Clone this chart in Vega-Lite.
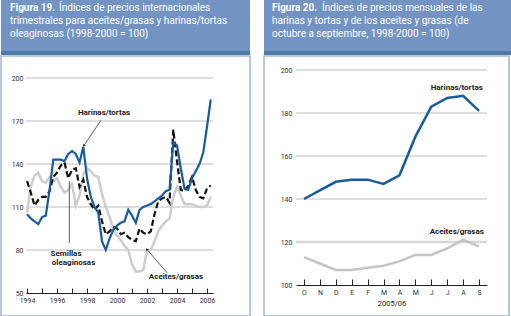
{
  "$schema": "https://vega.github.io/schema/vega-lite/v6.json",
  "padding": 0,
  "background": "white",
  "config": {
    "view": {"stroke": null},
    "font": "Roboto",
    "axis": {"labelFont": "Roboto", "labelFontSize": 7, "labelColor": "#333", "titleFont": "Roboto"}
  },
  "datasets": {
    "harinas": [
      {"t":1994.00,"v":105},{"t":1994.25,"v":102},{"t":1994.50,"v":100},{"t":1994.75,"v":98},
      {"t":1995.00,"v":103},{"t":1995.25,"v":104},{"t":1995.50,"v":122},{"t":1995.75,"v":143},
      {"t":1996.00,"v":143},{"t":1996.25,"v":143},{"t":1996.50,"v":142},{"t":1996.75,"v":147},
      {"t":1997.00,"v":149},{"t":1997.25,"v":147},{"t":1997.50,"v":141},{"t":1997.75,"v":152},
      {"t":1998.00,"v":130},{"t":1998.25,"v":117},{"t":1998.50,"v":110},{"t":1998.75,"v":106},
      {"t":1999.00,"v":86},{"t":1999.25,"v":80},{"t":1999.50,"v":88},{"t":1999.75,"v":94},
      {"t":2000.00,"v":97},{"t":2000.25,"v":99},{"t":2000.50,"v":100},{"t":2000.75,"v":108},
      {"t":2001.00,"v":104},{"t":2001.25,"v":99},{"t":2001.50,"v":108},{"t":2001.75,"v":110},
      {"t":2002.00,"v":111},{"t":2002.25,"v":112},{"t":2002.50,"v":114},{"t":2002.75,"v":116},
      {"t":2003.00,"v":118},{"t":2003.25,"v":121},{"t":2003.50,"v":122},{"t":2003.75,"v":155},
      {"t":2004.00,"v":153},{"t":2004.25,"v":137},{"t":2004.50,"v":123},{"t":2004.75,"v":122},
      {"t":2005.00,"v":130},{"t":2005.25,"v":135},{"t":2005.50,"v":140},{"t":2005.75,"v":148},
      {"t":2006.00,"v":166},{"t":2006.25,"v":185}
    ],
    "semillas": [
      {"t":1994.00,"v":128},{"t":1994.25,"v":120},{"t":1994.50,"v":111},{"t":1994.75,"v":115},
      {"t":1995.00,"v":117},{"t":1995.25,"v":117},{"t":1995.50,"v":121},{"t":1995.75,"v":131},
      {"t":1996.00,"v":134},{"t":1996.25,"v":139},{"t":1996.50,"v":141},{"t":1996.75,"v":130},
      {"t":1997.00,"v":136},{"t":1997.25,"v":137},{"t":1997.50,"v":124},{"t":1997.75,"v":129},
      {"t":1998.00,"v":117},{"t":1998.25,"v":112},{"t":1998.50,"v":108},{"t":1998.75,"v":111},
      {"t":1999.00,"v":100},{"t":1999.25,"v":91},{"t":1999.50,"v":93},{"t":1999.75,"v":96},
      {"t":2000.00,"v":95},{"t":2000.25,"v":91},{"t":2000.50,"v":92},{"t":2000.75,"v":89},
      {"t":2001.00,"v":87},{"t":2001.25,"v":86},{"t":2001.50,"v":95},{"t":2001.75,"v":92},
      {"t":2002.00,"v":91},{"t":2002.25,"v":93},{"t":2002.50,"v":105},{"t":2002.75,"v":114},
      {"t":2003.00,"v":116},{"t":2003.25,"v":117},{"t":2003.50,"v":113},{"t":2003.75,"v":164},
      {"t":2004.00,"v":142},{"t":2004.25,"v":122},{"t":2004.50,"v":121},{"t":2004.75,"v":125},
      {"t":2005.00,"v":131},{"t":2005.25,"v":122},{"t":2005.50,"v":117},{"t":2005.75,"v":116},
      {"t":2006.00,"v":123},{"t":2006.25,"v":125}
    ],
    "aceites": [
      {"t":1994.00,"v":106},{"t":1994.25,"v":124},{"t":1994.50,"v":132},{"t":1994.75,"v":134},
      {"t":1995.00,"v":128},{"t":1995.25,"v":127},{"t":1995.50,"v":131},{"t":1995.75,"v":128},
      {"t":1996.00,"v":130},{"t":1996.25,"v":124},{"t":1996.50,"v":120},{"t":1996.75,"v":122},
      {"t":1997.00,"v":126},{"t":1997.25,"v":111},{"t":1997.50,"v":118},{"t":1997.75,"v":133},
      {"t":1998.00,"v":137},{"t":1998.25,"v":135},{"t":1998.50,"v":132},{"t":1998.75,"v":131},
      {"t":1999.00,"v":119},{"t":1999.25,"v":110},{"t":1999.50,"v":103},{"t":1999.75,"v":95},
      {"t":2000.00,"v":90},{"t":2000.25,"v":87},{"t":2000.50,"v":83},{"t":2000.75,"v":80},
      {"t":2001.00,"v":70},{"t":2001.25,"v":65},{"t":2001.50,"v":65},{"t":2001.75,"v":66},
      {"t":2002.00,"v":80},{"t":2002.25,"v":80},{"t":2002.50,"v":86},{"t":2002.75,"v":93},
      {"t":2003.00,"v":97},{"t":2003.25,"v":100},{"t":2003.50,"v":102},{"t":2003.75,"v":117},
      {"t":2004.00,"v":124},{"t":2004.25,"v":118},{"t":2004.50,"v":112},{"t":2004.75,"v":112},
      {"t":2005.00,"v":112},{"t":2005.25,"v":111},{"t":2005.50,"v":110},{"t":2005.75,"v":110},
      {"t":2006.00,"v":111},{"t":2006.25,"v":117}
    ],
    "mensual": [
      {"serie":"h","mes":"oct","i":0,"v":140},{"serie":"h","mes":"nov","i":1,"v":144},
      {"serie":"h","mes":"dic","i":2,"v":148},{"serie":"h","mes":"ene","i":3,"v":149},
      {"serie":"h","mes":"feb","i":4,"v":149},{"serie":"h","mes":"mar","i":5,"v":147},
      {"serie":"h","mes":"abr","i":6,"v":151},{"serie":"h","mes":"may","i":7,"v":169},
      {"serie":"h","mes":"jun","i":8,"v":183},{"serie":"h","mes":"jul","i":9,"v":187},
      {"serie":"h","mes":"ago","i":10,"v":188},{"serie":"h","mes":"sep","i":11,"v":181},
      {"serie":"a","mes":"oct","i":0,"v":113},{"serie":"a","mes":"nov","i":1,"v":110},
      {"serie":"a","mes":"dic","i":2,"v":107},{"serie":"a","mes":"ene","i":3,"v":107},
      {"serie":"a","mes":"feb","i":4,"v":108},{"serie":"a","mes":"mar","i":5,"v":109},
      {"serie":"a","mes":"abr","i":6,"v":111},{"serie":"a","mes":"may","i":7,"v":114},
      {"serie":"a","mes":"jun","i":8,"v":114},{"serie":"a","mes":"jul","i":9,"v":117},
      {"serie":"a","mes":"ago","i":10,"v":121},{"serie":"a","mes":"sep","i":11,"v":118}
    ]
  },
  "spacing": 12,
  "hconcat": [
    {
      "spacing": 0,
      "vconcat": [
        {
          "width": 249, "height": 51,
          "view": {"fill": "#7393c3", "stroke": null},
          "data": {"values": [
            {"linea": 1, "parte": "n", "texto": "Figura 19."},
            {"linea": 1, "parte": "r", "texto": "Índices de precios internacionales"},
            {"linea": 2, "parte": "l", "texto": "trimestrales para aceites/grasas y harinas/tortas"},
            {"linea": 3, "parte": "l", "texto": "oleaginosas (1998-2000 = 100)"}
          ]},
          "encoding": {
            "x": {"datum": 0, "type": "quantitative", "scale": {"domain": [0, 1], "range": [9, 240], "nice": false, "zero": false}, "axis": null},
            "y": {"field": "linea", "type": "quantitative", "scale": {"domain": [1, 3], "range": [10.7, 37.3], "nice": false, "zero": false}, "axis": null},
            "text": {"field": "texto"}
          },
          "layer": [
            {"transform": [{"filter": "datum.parte == 'n'"}], "mark": {"type": "text", "align": "left", "baseline": "alphabetic", "font": "Roboto", "fontSize": 10, "fontWeight": "bold", "color": "white"}},
            {"transform": [{"filter": "datum.parte == 'r'"}], "mark": {"type": "text", "align": "left", "baseline": "alphabetic", "font": "Roboto", "fontSize": 10, "color": "white", "dx": 49}},
            {"transform": [{"filter": "datum.parte == 'l'"}], "mark": {"type": "text", "align": "left", "baseline": "alphabetic", "font": "Roboto", "fontSize": 10, "color": "white"}}
          ]
        },
        {
          "width": 249, "height": 4,
          "view": {"fill": "#4b7ba5", "stroke": null},
          "data": {"values": []},
          "mark": "text",
          "encoding": {}
        },
        {
          "width": 249, "height": 260,
          "view": {"stroke": "#a2b8d2", "strokeWidth": 1.5, "fill": "white"},
          "encoding": {
            "x": {"field": "t", "type": "quantitative",
              "scale": {"domain": [1993.93, 2006.4], "range": [25, 212], "nice": false, "zero": false},
              "axis": {"orient": "bottom", "offset": -23, "values": [1994,1995,1996,1997,1998,1999,2000,2001,2002,2003,2004,2005,2006],
                "format": "d", "labelExpr": "datum.value % 2 == 0 ? datum.label : ''",
                "grid": false, "domainColor": "#222", "tickColor": "#222", "tickSize": -5, "labelPadding": 8, "title": null}},
            "y": {"field": "v", "type": "quantitative",
              "scale": {"domain": [50, 200], "range": [237, 22], "nice": false, "zero": false},
              "axis": {"orient": "left", "offset": -25, "values": [50,80,110,140,170,200], "grid": false, "domain": false, "ticks": false, "labelPadding": 3, "title": null}}
          },
          "layer": [
            {"data": {"values": [{"v":80,"t":1993.93,"t2":2006.4},{"v":110,"t":1993.93,"t2":2006.4},{"v":140,"t":1993.93,"t2":2006.4},{"v":170,"t":1993.93,"t2":2006.4},{"v":200,"t":1993.93,"t2":2006.4}]},
             "mark": {"type": "rule", "color": "#bdbdbd", "strokeWidth": 1},
             "encoding": {"x2": {"field": "t2"}}},
            {"data": {"name": "aceites"}, "mark": {"type": "line", "color": "#cdcdcd", "strokeWidth": 2.5}},
            {"data": {"name": "semillas"}, "mark": {"type": "line", "color": "#111111", "strokeWidth": 2.2, "strokeDash": [6, 3]}},
            {"data": {"name": "harinas"}, "mark": {"type": "line", "color": "#1a5b9e", "strokeWidth": 2.2}},
            {"data": {"values": [
                {"t":1996.82,"v":128,"t2":1996.82,"v2":85},
                {"t":1998.93,"v":170.5,"t2":1997.8,"v2":153},
                {"t":2003.35,"v":64,"t2":2002.0,"v2":80.3}
              ]},
             "mark": {"type": "rule", "color": "#333", "strokeWidth": 0.8},
             "encoding": {"x2": {"field": "t2"}, "y2": {"field": "v2"}}},
            {"data": {"values": [{"t":1997.8,"v":153}]},
             "mark": {"type": "point", "shape": "triangle", "filled": true, "color": "#333", "size": 10, "angle": 215, "opacity": 1}},
            {"data": {"values": [{"t":2002.0,"v":80.3}]},
             "mark": {"type": "point", "shape": "triangle", "filled": true, "color": "#333", "size": 10, "angle": 319, "opacity": 1}},
            {"data": {"values": [
                {"t":1999.13,"v":175.8,"texto":"Harinas/tortas"},
                {"t":1996.6,"v":77.4,"texto":"Semillas"},
                {"t":1997.1,"v":71,"texto":"oleaginosas"},
                {"t":2003.93,"v":61,"texto":"Aceites/grasas"}
              ]},
             "mark": {"type": "text", "font": "Roboto", "fontSize": 8, "fontWeight": "bold", "color": "#222", "align": "center", "baseline": "middle"},
             "encoding": {"text": {"field": "texto"}}}
          ]
        }
      ]
    },
    {
      "spacing": 0,
      "vconcat": [
        {
          "width": 249, "height": 51,
          "view": {"fill": "#7393c3", "stroke": null},
          "data": {"values": [
            {"linea": 1, "parte": "n", "texto": "Figura 20."},
            {"linea": 1, "parte": "r", "texto": "Índices de precios mensuales de las"},
            {"linea": 2, "parte": "l", "texto": "harinas y tortas y de los aceites y grasas (de"},
            {"linea": 3, "parte": "l", "texto": "octubre a septiembre, 1998-2000 = 100)"}
          ]},
          "encoding": {
            "x": {"datum": 0, "type": "quantitative", "scale": {"domain": [0, 1], "range": [8, 240], "nice": false, "zero": false}, "axis": null},
            "y": {"field": "linea", "type": "quantitative", "scale": {"domain": [1, 3], "range": [10.7, 37.3], "nice": false, "zero": false}, "axis": null},
            "text": {"field": "texto"}
          },
          "layer": [
            {"transform": [{"filter": "datum.parte == 'n'"}], "mark": {"type": "text", "align": "left", "baseline": "alphabetic", "font": "Roboto", "fontSize": 10, "fontWeight": "bold", "color": "white"}},
            {"transform": [{"filter": "datum.parte == 'r'"}], "mark": {"type": "text", "align": "left", "baseline": "alphabetic", "font": "Roboto", "fontSize": 10, "color": "white", "dx": 50}},
            {"transform": [{"filter": "datum.parte == 'l'"}], "mark": {"type": "text", "align": "left", "baseline": "alphabetic", "font": "Roboto", "fontSize": 10, "color": "white"}}
          ]
        },
        {
          "width": 249, "height": 4,
          "view": {"fill": "#4b7ba5", "stroke": null},
          "data": {"values": []},
          "mark": "text",
          "encoding": {}
        },
        {
          "width": 245, "height": 260,
          "view": {"stroke": "#a2b8d2", "strokeWidth": 1.5, "fill": "white"},
          "data": {"name": "mensual"},
          "encoding": {
            "x": {"field": "i", "type": "quantitative",
              "scale": {"domain": [-0.5, 11.5], "range": [32, 223], "nice": false, "zero": false},
              "axis": {"orient": "bottom", "offset": -31, "values": [0,1,2,3,4,5,6,7,8,9,10,11],
                "labelExpr": "['O','N','D','E','F','M','A','M','J','J','A','S'][datum.value]",
                "grid": false, "domainColor": "#222", "tickColor": "#222", "tickSize": -6, "labelPadding": 9,
                "title": "2005/06", "titleFontSize": 7.5, "titleFontWeight": "normal", "titleColor": "#222", "titlePadding": 4}},
            "y": {"field": "v", "type": "quantitative",
              "scale": {"domain": [100, 200], "range": [229, 14], "nice": false, "zero": false},
              "axis": {"orient": "left", "offset": -32, "values": [100,120,140,160,180,200], "grid": false, "domain": false, "ticks": false, "labelPadding": 4, "title": null}}
          },
          "layer": [
            {"data": {"values": [{"v":120,"i":-0.5,"i2":11.5}]},
             "mark": {"type": "rule", "color": "#d6d6d6", "strokeWidth": 2.5},
             "encoding": {"x2": {"field": "i2"}}},
            {"data": {"values": [{"v":140,"i":-0.5,"i2":11.5},{"v":160,"i":-0.5,"i2":11.5},{"v":180,"i":-0.5,"i2":11.5},{"v":200,"i":-0.5,"i2":11.5}]},
             "mark": {"type": "rule", "color": "#bdbdbd", "strokeWidth": 1},
             "encoding": {"x2": {"field": "i2"}}},
            {"transform": [{"filter": "datum.serie == 'a'"}], "mark": {"type": "line", "color": "#c4c4c4", "strokeWidth": 2.5}},
            {"transform": [{"filter": "datum.serie == 'h'"}], "mark": {"type": "line", "color": "#1a5b9e", "strokeWidth": 2.5}},
            {"data": {"values": [
                {"i":9.6,"v":191.6,"texto":"Harinas/tortas"},
                {"i":9.6,"v":124.8,"texto":"Aceites/grasas"}
              ]},
             "mark": {"type": "text", "font": "Roboto", "fontSize": 8, "fontWeight": "bold", "color": "#222", "align": "center", "baseline": "middle"},
             "encoding": {"text": {"field": "texto"}}}
          ]
        }
      ]
    }
  ]
}
